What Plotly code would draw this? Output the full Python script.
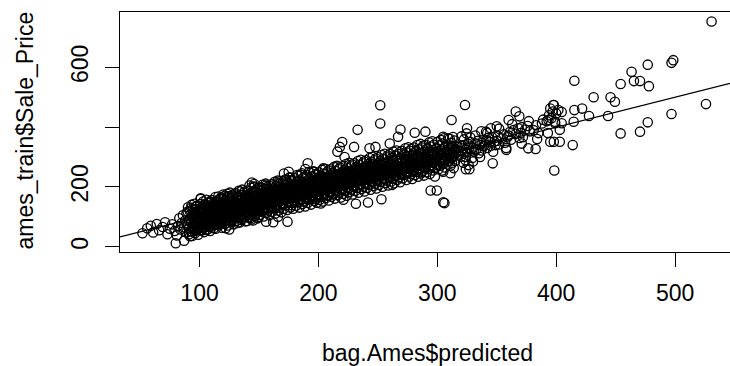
import plotly.graph_objects as go

# ---- data (thousands of $) ----
pred_a = [52, 56, 59, 61, 64, 66, 69, 71, 73, 75, 77, 79,
          80, 81, 82, 83, 84, 85, 86, 87, 87, 88, 89, 89]
sale_a = [45, 62, 70, 48, 76, 55, 66, 82, 42, 60, 75, 53,
          12, 38, 70, 95, 58, 80, 105, 65, 20, 88, 48, 112]

pred_90 = [90, 90, 91, 92, 92, 93, 93, 94, 94, 95, 95, 96, 96, 96, 97, 97, 98, 98, 98, 99, 99, 99, 91, 94, 97]
sale_90 = [72, 118, 60, 95, 35, 84, 130, 66, 102, 78, 115, 90, 55, 124, 70, 98, 82, 108, 62, 92, 120, 75, 88, 50, 135]

pred_100 = [100, 100, 101, 101, 101, 102, 102, 103, 103, 103, 104, 104, 105, 105, 105, 106, 106, 106,
            107, 107, 107, 108, 108, 108, 109, 109, 109, 100, 102, 104, 106, 108, 103, 105, 107]
sale_100 = [85, 112, 96, 160, 70, 104, 78, 120, 92, 64, 108, 86, 98, 130, 74, 115, 90, 58,
            102, 125, 82, 95, 138, 70, 110, 88, 118, 128, 55, 142, 100, 66, 84, 106, 134]

pred_110 = [110, 110, 110, 111, 111, 111, 112, 112, 112, 113, 113, 113, 114, 114, 114, 115, 115, 115,
            116, 116, 116, 117, 117, 117, 118, 118, 118, 119, 119, 119, 110, 112, 114, 116, 118, 111, 113, 115, 117, 119]
sale_110 = [95, 118, 80, 108, 130, 88, 100, 72, 124, 112, 92, 140, 104, 84, 120, 98, 130, 76,
            110, 90, 145, 102, 122, 86, 114, 96, 135, 108, 126, 82, 150, 62, 100, 115, 92, 105, 118, 155, 96, 120]

pred_120 = [120, 120, 120, 121, 121, 121, 122, 122, 122, 123, 123, 123, 124, 124, 124, 125, 125, 125,
            126, 126, 126, 127, 127, 127, 128, 128, 128, 129, 129, 129, 120, 122, 124, 126, 128,
            121, 123, 125, 127, 129, 122, 124, 126, 128, 125]
sale_120 = [110, 125, 95, 118, 138, 100, 122, 88, 112, 130, 105, 148, 116, 96, 135, 120, 108, 142,
            126, 100, 114, 132, 118, 92, 124, 140, 108, 128, 115, 150, 160, 78, 170, 85, 165,
            112, 122, 118, 130, 100, 140, 104, 128, 110, 158]

pred_130 = [130, 130, 130, 131, 131, 131, 132, 132, 132, 133, 133, 133, 134, 134, 134, 135, 135, 135,
            136, 136, 136, 137, 137, 137, 138, 138, 138, 139, 139, 139, 130, 132, 134, 136, 138,
            131, 133, 135, 137, 139, 130, 133, 136, 139, 132, 135, 138, 134]
sale_130 = [128, 140, 112, 135, 120, 150, 126, 110, 142, 132, 118, 155, 138, 124, 104, 130, 146, 116,
            140, 126, 160, 134, 118, 148, 138, 122, 152, 142, 128, 115, 95, 165, 100, 172, 108,
            136, 128, 140, 132, 145, 118, 122, 130, 136, 80, 90, 170, 185]

pred_140 = [140, 140, 140, 141, 141, 141, 142, 142, 142, 143, 143, 143, 144, 144, 144, 145, 145, 145,
            146, 146, 146, 147, 147, 147, 148, 148, 148, 149, 149, 149, 140, 142, 144, 146, 148,
            141, 143, 145, 147, 149, 140, 143, 146, 149, 142, 145, 148, 144]
sale_140 = [138, 150, 124, 145, 132, 160, 140, 126, 155, 148, 134, 166, 142, 128, 158, 146, 136, 170,
            150, 132, 162, 144, 156, 128, 152, 140, 168, 148, 160, 134, 110, 205, 112, 200, 118,
            142, 152, 140, 148, 155, 86, 96, 210, 120, 175, 88, 180, 215]

pred_150 = [150, 150, 150, 151, 151, 151, 152, 152, 152, 153, 153, 153, 154, 154, 154, 155, 155, 155,
            156, 156, 156, 157, 157, 157, 158, 158, 158, 159, 159, 159, 150, 152, 154, 156, 158,
            151, 153, 155, 157, 159, 150, 154, 158, 156, 152]
sale_150 = [150, 162, 138, 156, 144, 170, 152, 140, 166, 160, 146, 176, 154, 140, 168, 158, 148, 180,
            162, 146, 174, 156, 168, 140, 164, 150, 178, 158, 172, 146, 120, 198, 124, 205, 128,
            155, 162, 150, 158, 166, 100, 132, 192, 84, 190]

pred_160 = [160, 160, 160, 161, 161, 161, 162, 162, 162, 163, 163, 163, 164, 164, 164, 165, 165, 165,
            166, 166, 166, 167, 167, 167, 168, 168, 168, 169, 169, 169, 160, 162, 164, 166, 168,
            161, 163, 165, 167, 169, 162, 166]
sale_160 = [160, 172, 148, 166, 154, 182, 162, 150, 176, 170, 156, 186, 164, 150, 178, 168, 158, 190,
            172, 156, 184, 166, 178, 150, 174, 160, 188, 168, 182, 156, 130, 210, 134, 215, 138,
            165, 172, 160, 168, 176, 82, 100]

pred_170 = [170, 170, 170, 171, 171, 171, 172, 172, 172, 173, 173, 173, 174, 174, 174, 175, 175, 175,
            176, 176, 176, 177, 177, 177, 178, 178, 178, 179, 179, 179, 170, 172, 174, 176, 178,
            171, 173, 175, 177, 179]
sale_170 = [170, 182, 158, 176, 164, 192, 172, 160, 186, 180, 166, 196, 174, 160, 188, 178, 168, 200,
            182, 166, 194, 176, 188, 160, 184, 170, 198, 178, 192, 166, 140, 225, 84, 232, 146,
            175, 182, 170, 178, 186]

pred_180 = [180, 180, 180, 181, 181, 181, 182, 182, 182, 183, 183, 183, 184, 184, 184, 185, 185, 185,
            186, 186, 186, 187, 187, 187, 188, 188, 188, 189, 189, 189, 180, 182, 184, 186, 188,
            181, 185, 189]
sale_180 = [180, 192, 168, 186, 174, 204, 182, 170, 196, 190, 176, 206, 184, 170, 198, 188, 178, 212,
            192, 176, 204, 186, 198, 170, 194, 180, 210, 188, 202, 176, 150, 240, 155, 246, 150,
            185, 195, 260]

pred_190 = [190, 190, 190, 191, 191, 191, 192, 192, 192, 193, 193, 193, 194, 194, 194, 195, 195, 195,
            196, 196, 196, 197, 197, 197, 198, 198, 198, 199, 199, 199, 190, 192, 194, 196, 198, 191]
sale_190 = [190, 202, 178, 196, 184, 214, 192, 180, 206, 200, 186, 216, 194, 180, 208, 198, 188, 222,
            202, 186, 214, 196, 208, 180, 204, 190, 220, 198, 212, 186, 160, 250, 162, 252, 168, 279]

pred_200 = [200, 200, 200, 201, 201, 201, 202, 202, 202, 203, 203, 203, 204, 204, 204, 205, 205, 205,
            206, 206, 206, 207, 207, 207, 208, 208, 208, 209, 209, 209, 200, 204, 208, 202]
sale_200 = [200, 212, 186, 206, 194, 224, 202, 188, 216, 210, 196, 228, 204, 190, 220, 208, 196, 232,
            212, 196, 224, 206, 218, 188, 214, 200, 230, 208, 222, 194, 165, 262, 172, 145]

pred_210 = [210, 210, 210, 211, 211, 211, 212, 212, 212, 213, 213, 213, 214, 214, 214, 215, 215, 215,
            216, 216, 216, 217, 217, 217, 218, 218, 218, 219, 219, 219, 212, 216]
sale_210 = [210, 222, 196, 216, 204, 234, 212, 198, 226, 220, 206, 238, 214, 200, 230, 218, 206, 242,
            222, 206, 234, 216, 228, 198, 224, 210, 240, 218, 232, 204, 175, 268]

pred_220 = [220, 220, 220, 221, 221, 221, 222, 222, 222, 223, 223, 223, 224, 224, 224, 225, 225, 225,
            226, 226, 226, 227, 227, 227, 228, 228, 228, 229, 229, 229]
sale_220 = [220, 232, 206, 226, 214, 244, 222, 208, 236, 230, 216, 248, 224, 210, 240, 228, 216, 252,
            232, 216, 244, 226, 238, 208, 234, 220, 250, 228, 242, 214]

pred_230 = [230, 230, 230, 231, 231, 231, 232, 232, 232, 233, 233, 233, 234, 234, 234, 235, 235, 235,
            236, 236, 236, 237, 237, 237, 238, 238, 238, 239]
sale_230 = [230, 242, 216, 236, 224, 254, 232, 218, 246, 240, 226, 258, 234, 220, 250, 238, 226, 262,
            242, 226, 254, 236, 248, 218, 244, 230, 260, 238]

pred_240 = [240, 240, 240, 241, 241, 241, 242, 242, 242, 243, 243, 243, 244, 244, 244, 245, 245, 245,
            246, 246, 246, 247, 247, 248, 248, 249]
sale_240 = [240, 252, 224, 246, 232, 266, 242, 226, 258, 250, 234, 270, 244, 228, 262, 248, 234, 276,
            252, 236, 268, 246, 260, 254, 238, 250]

pred_250 = [250, 250, 250, 251, 251, 252, 252, 252, 253, 253, 254, 254, 254, 255, 255, 256, 256, 257,
            257, 258, 258, 259, 259, 251]
sale_250 = [250, 264, 232, 256, 242, 252, 236, 270, 260, 244, 254, 238, 272, 258, 246, 262, 240, 256,
            276, 250, 266, 256, 242, 280]

pred_260 = [260, 260, 260, 261, 261, 262, 262, 263, 263, 264, 264, 265, 265, 266, 266, 267, 267, 268,
            268, 269, 269, 263]
sale_260 = [260, 274, 244, 266, 250, 262, 246, 270, 256, 264, 248, 268, 254, 272, 258, 262, 280, 266,
            250, 270, 256, 290]

pred_270 = [270, 270, 271, 271, 272, 272, 273, 273, 274, 274, 275, 275, 276, 276, 277, 277, 278, 278, 279, 279]
sale_270 = [270, 256, 284, 262, 276, 260, 280, 266, 272, 290, 278, 262, 284, 268, 276, 292, 282, 264, 278, 296]

pred_280 = [280, 280, 281, 281, 282, 282, 283, 284, 284, 285, 285, 286, 287, 287, 288, 288, 289, 289]
sale_280 = [280, 264, 290, 272, 286, 268, 294, 282, 300, 276, 290, 284, 296, 270, 288, 302, 280, 294]

pred_290 = [290, 290, 291, 292, 292, 293, 294, 294, 295, 296, 296, 297, 298, 298, 299, 299]
sale_290 = [290, 276, 302, 284, 298, 310, 288, 272, 300, 292, 308, 282, 296, 314, 290, 304]

pred_300 = [300, 300, 301, 302, 303, 303, 304, 305, 306, 306, 307, 308, 309, 309,
            310, 311, 312, 312, 313, 314, 315, 316, 317, 318, 318, 319,
            320, 321, 322, 323, 324, 325, 326, 327, 328, 329, 324]
sale_300 = [300, 316, 288, 306, 294, 322, 310, 298, 314, 286, 304, 318, 296, 326,
            310, 322, 298, 330, 314, 304, 326, 318, 334, 306, 322, 340,
            320, 336, 312, 340, 326, 316, 344, 330, 350, 322, 300]

pred_330 = [330, 331, 332, 333, 334, 336, 337, 338, 339,
            340, 341, 342, 343, 344, 345, 346, 348, 349,
            350, 351, 352, 354, 356, 357, 359,
            360, 361, 362, 364, 366, 368, 369,
            370, 371, 372, 374, 376, 378,
            381, 383, 385, 388,
            392, 394, 395, 396, 397, 398, 399, 400]
sale_330 = [332, 318, 346, 326, 354, 340, 322, 348, 336,
            342, 356, 330, 364, 350, 338, 366, 352, 340,
            354, 370, 342, 362, 376, 348, 366,
            372, 384, 358, 390, 378, 396, 364,
            380, 400, 366, 392, 404, 386,
            390, 406, 380, 412,
            420, 440, 462, 430, 452, 474, 418, 446]

# middle layer of the dense band
pred_m = [95.5, 96.4, 97.3, 98.2, 99.1, 100.0, 100.9, 101.8, 102.7, 103.6,
          105.5, 106.4, 107.3, 108.2, 109.1, 110.0, 110.9, 111.8, 112.7, 113.6,
          115.5, 116.4, 117.3, 118.2, 119.1, 120.0, 120.9, 121.8, 122.7, 123.6,
          125.5, 126.4, 127.3, 128.2, 129.1, 130.0, 130.9, 131.8, 132.7, 133.6,
          135.5, 136.4, 137.3, 138.2, 139.1, 140.0, 140.9, 141.8, 142.7, 143.6,
          145.5, 146.4, 147.3, 148.2, 149.1, 150.0, 150.9, 151.8, 152.7, 153.6,
          155.5, 156.4, 157.3, 158.2, 159.1, 160.0, 160.9, 161.8, 162.7, 163.6,
          165.5, 166.4, 167.3, 168.2, 169.1, 170.0, 170.9, 171.8, 172.7, 173.6,
          175.5, 176.4, 177.3, 178.2, 179.1, 180.0, 180.9, 181.8, 182.7, 183.6,
          185.5, 186.4, 187.3, 188.2, 189.1, 190.0, 190.9, 191.8, 192.7, 193.6,
          195.5, 196.4, 197.3, 198.2, 199.1, 200.0, 200.9, 201.8, 202.7, 203.6,
          205.5, 206.4, 207.3, 208.2, 209.1, 210.0, 210.9, 211.8, 212.7, 213.6,
          215.5, 216.4, 217.3, 218.2, 219.1, 220.0, 220.9, 221.8, 222.7, 223.6,
          225.5, 226.4, 227.3, 228.2, 229.1, 230.0, 230.9, 231.8, 232.7, 233.6,
          235.5, 236.4, 237.3, 238.2, 239.1, 240.0, 240.9, 241.8, 242.7, 243.6,
          245.5, 246.4, 247.3, 248.2, 249.1, 250.0, 250.9, 251.8, 252.7, 253.6,
          255.5, 256.4, 257.3, 258.2, 259.1, 260.0, 260.9, 261.8, 262.7, 263.6,
          265.5, 266.4, 267.3, 268.2, 269.1, 270.0, 270.9, 271.8, 272.7, 273.6,
          275.5, 276.4, 277.3, 278.2, 279.1, 280.0, 280.9, 281.8, 282.7, 283.6,
          285.5, 286.4, 287.3, 288.2, 289.1, 290.0, 290.9, 291.8, 292.7, 293.6,
          295.5, 296.4, 297.3, 298.2, 299.1, 300.0, 300.9, 301.8, 302.7, 303.6,
          305.5, 306.4, 307.3, 308.2, 309.1, 310.0, 310.9, 311.8, 312.7, 313.6]
sale_m = [114, 76, 104, 86, 122, 69, 109, 81, 118, 90,
          126, 88, 116, 98, 134, 81, 121, 93, 130, 102,
          137, 101, 128, 109, 147, 92, 134, 104, 141, 115,
          149, 109, 137, 121, 155, 104, 142, 116, 153, 123,
          157, 121, 149, 129, 167, 112, 154, 124, 161, 135,
          169, 129, 157, 141, 175, 124, 162, 136, 173, 143,
          177, 141, 169, 149, 187, 132, 174, 144, 181, 155,
          189, 149, 177, 161, 195, 144, 182, 156, 193, 163,
          197, 161, 189, 169, 207, 152, 194, 164, 201, 175,
          209, 169, 197, 181, 215, 164, 202, 176, 213, 183,
          217, 181, 209, 189, 227, 172, 214, 184, 221, 195,
          229, 189, 217, 201, 235, 184, 222, 196, 233, 203,
          237, 201, 229, 209, 247, 192, 234, 204, 241, 215,
          249, 209, 237, 221, 255, 204, 242, 216, 253, 223,
          257, 221, 249, 229, 267, 212, 254, 224, 261, 235,
          269, 229, 257, 241, 275, 224, 262, 236, 273, 243,
          277, 241, 269, 249, 287, 232, 274, 244, 281, 255,
          289, 251, 279, 261, 297, 244, 284, 256, 293, 265,
          300, 260, 288, 272, 306, 255, 295, 265, 304, 274,
          310, 270, 298, 282, 316, 265, 303, 277, 314, 284,
          318, 282, 310, 290, 328, 273, 315, 285, 322, 296,
          330, 290, 318, 302, 336, 285, 325, 295, 334, 304]

# wider scatter around the dense band (edges of the black cloud)
pred_w1 = [90.3, 91.1, 91.8, 92.4, 93.2, 93.7, 94.5, 95.1, 95.6, 96.4, 97.0, 97.7, 98.3, 98.8, 99.4, 99.9,
           100.6, 101.2, 101.9, 102.3, 103.1, 103.8, 104.4, 105.2, 105.7, 106.3, 107.1, 107.6, 108.4, 108.9, 109.3, 109.8,
           110.2, 110.9, 111.7, 112.5, 113.3, 113.6, 114.6, 115.0, 115.8, 116.5, 116.9, 117.8, 118.2, 118.9, 119.5, 119.7,
           120.4, 121.0, 121.9, 122.2, 123.3, 123.9, 124.4, 125.3, 125.5, 126.6, 127.2, 127.5, 128.5, 128.7, 129.6, 129.9,
           130.1, 131.3, 131.7, 132.6, 133.0, 133.8, 134.7, 135.0, 135.9, 136.2, 137.1, 137.9, 138.1, 138.8, 139.2, 139.8,
           140.3, 141.2, 141.6, 142.5, 143.3, 143.7, 144.6, 145.1, 145.8, 146.3, 147.0, 147.6, 148.4, 148.9, 149.3, 149.8,
           150.2, 151.0, 151.9, 152.3, 153.1, 153.9, 154.4, 155.2, 155.6, 156.5, 157.1, 157.7, 158.2, 158.8, 159.5, 159.9,
           160.4, 161.1, 161.8, 162.4, 163.2, 163.8, 164.5, 165.0, 165.7, 166.4, 167.0, 167.8, 168.3, 168.9, 169.4, 169.8,
           170.3, 170.9, 171.7, 172.5, 173.2, 173.7, 174.6, 175.1, 175.7, 176.3, 177.1, 177.6, 178.4, 178.8, 179.3, 179.9,
           180.2, 181.1, 181.8, 182.3, 183.1, 183.9, 184.4, 185.2, 185.6, 186.5, 187.0, 187.7, 188.2, 188.9, 189.5, 189.8,
           190.4, 191.0, 191.9, 192.4, 193.3, 193.8, 194.5, 195.0, 195.8, 196.4, 197.2, 197.6, 198.3, 198.7, 199.4, 199.9]
sale_w1 = [132, 42, 120, 52, 140, 36, 126, 60, 144, 46, 134, 54, 138, 40, 116, 64,
           143, 55, 131, 65, 151, 49, 139, 71, 157, 57, 147, 67, 149, 53, 129, 77,
           156, 68, 146, 76, 166, 60, 150, 86, 168, 72, 160, 78, 164, 64, 142, 90,
           169, 77, 157, 87, 177, 71, 163, 95, 181, 83, 171, 89, 175, 75, 153, 99,
           179, 87, 167, 97, 187, 81, 173, 105, 191, 93, 181, 99, 185, 85, 163, 109,
           187, 99, 177, 107, 197, 91, 183, 115, 201, 103, 189, 111, 195, 95, 173, 119,
           199, 107, 187, 117, 207, 101, 193, 125, 211, 113, 199, 121, 205, 105, 183, 129,
           209, 117, 195, 129, 217, 111, 203, 137, 221, 121, 211, 131, 213, 115, 193, 141,
           219, 127, 207, 139, 225, 123, 211, 147, 231, 131, 221, 139, 223, 127, 201, 151,
           229, 137, 217, 149, 237, 131, 221, 157, 241, 143, 229, 151, 235, 135, 213, 159,
           239, 147, 225, 159, 247, 141, 233, 165, 251, 153, 241, 159, 243, 147, 223, 171]

pred_w2 = [200.3, 201.2, 201.7, 202.5, 203.2, 203.7, 204.6, 205.1, 205.7, 206.3, 207.1, 207.8, 208.4, 208.8, 209.3, 209.8,
           210.2, 211.0, 211.8, 212.3, 213.1, 213.9, 214.4, 215.2, 215.6, 216.5, 217.0, 217.7, 218.2, 218.9, 219.5, 219.9,
           220.4, 221.1, 221.9, 222.4, 223.2, 223.8, 224.5, 225.0, 225.8, 226.4, 227.2, 227.6, 228.3, 228.7, 229.4, 229.8,
           230.3, 231.2, 231.7, 232.5, 233.2, 233.7, 234.6, 235.1, 235.7, 236.3, 237.1, 237.8, 238.4, 238.8, 239.3, 239.8,
           240.2, 241.0, 241.8, 242.3, 243.1, 243.9, 244.4, 245.2, 245.6, 246.5, 247.0, 247.7, 248.2, 248.9, 249.5, 249.9,
           250.4, 251.1, 251.9, 252.4, 253.2, 253.8, 254.5, 255.0, 255.8, 256.4, 257.2, 257.6, 258.3, 258.7, 259.4, 259.8,
           260.3, 261.2, 261.7, 262.5, 263.2, 263.7, 264.6, 265.1, 265.7, 266.3, 267.1, 267.8, 268.4, 268.8, 269.3, 269.8,
           270.2, 271.0, 271.8, 272.3, 273.1, 273.9, 274.4, 275.2, 275.6, 276.5, 277.0, 277.7, 278.2, 278.9, 279.5, 279.9,
           280.4, 281.1, 281.9, 282.4, 283.2, 283.8, 284.5, 285.0, 285.8, 286.4, 287.2, 287.6, 288.3, 288.7, 289.4, 289.8,
           290.3, 291.2, 291.7, 292.5, 293.2, 293.7, 294.6, 295.1, 295.7, 296.3, 297.1, 297.8,
           300.2, 301.0, 301.8, 302.3, 303.1, 303.9, 304.4, 305.2, 305.6, 306.5,
           310.4, 311.1, 311.9, 312.4, 313.2, 313.8, 314.5, 315.0,
           320.3, 321.9, 322.5, 323.7, 324.6, 326.3, 327.8, 329.4,
           332, 336, 341, 347, 352, 358, 363, 371, 377, 384, 389, 393]
sale_w2 = [249, 157, 237, 167, 257, 151, 243, 175, 261, 163, 249, 171, 255, 155, 233, 179,
           259, 167, 247, 177, 267, 161, 253, 185, 271, 173, 259, 181, 265, 165, 243, 189,
           269, 177, 257, 187, 277, 171, 263, 195, 281, 183, 269, 191, 275, 175, 253, 199,
           279, 187, 267, 197, 287, 181, 273, 205, 291, 193, 279, 201, 285, 185, 263, 209,
           289, 197, 277, 207, 297, 191, 283, 215, 301, 203, 289, 211, 295, 195, 273, 219,
           299, 207, 287, 217, 307, 201, 293, 225, 311, 213, 299, 221, 305, 205, 283, 229,
           310, 218, 298, 228, 318, 212, 304, 236, 322, 224, 310, 232, 316, 216, 294, 240,
           321, 229, 309, 241, 329, 223, 315, 247, 333, 235, 321, 243, 327, 227, 305, 251,
           332, 240, 320, 250, 340, 234, 326, 258, 344, 246, 332, 254, 338, 238, 316, 262,
           341, 249, 329, 261, 349, 243, 335, 267, 353, 255, 341, 263,
           351, 259, 339, 271, 357, 255, 345, 277, 363, 265,
           361, 271, 347, 281, 367, 263, 355, 287,
           369, 281, 359, 289, 379, 273, 365, 297,
           372, 300, 385, 318, 395, 330, 410, 345, 420, 360, 425, 380]

pred_out = [530.7, 497, 498.5, 477, 463.4, 465.4, 470.5, 478, 454.2, 415.3,
            431.5, 445.7, 449.4, 443.6, 427.6, 414.7, 526, 497, 477, 470.5,
            454.2, 413.9, 415.3, 421.8, 404.6, 404.6, 403, 403, 398.4, 397.6,
            401.8, 393.5, 399.1, 395, 398, 323.3, 312, 376.5, 382.7, 346.6,
            324, 327, 294.4, 299.6, 305, 306, 253, 262, 252, 252,
            233, 269, 281, 290, 305, 309, 325, 345, 337, 342,
            350, 360, 366, 369, 358, 335, 320, 330, 305, 311,
            287, 298, 221, 231.5, 241.7, 230, 243, 248, 260, 267,
            216, 218, 220, 222, 171, 175, 120, 122, 125, 101]
sale_out = [753, 615, 624, 609, 585, 554, 554, 537, 544, 555,
            500, 500, 485, 437, 437, 418, 477, 444, 416, 385,
            379, 340, 457, 462, 451, 413, 391, 351, 255, 474,
            457, 424, 413, 351, 351, 474, 424, 329, 327, 279,
            259, 259, 188, 188, 149, 146, 159, 207, 473, 412,
            391, 392, 381, 385, 368, 363, 396, 396, 386, 380,
            403, 424, 452, 436, 324, 313, 301, 285, 251, 246,
            251, 235, 157, 144, 148, 334, 329, 334, 345, 368,
            318, 334, 350, 300, 245, 251, 175, 62, 58, 162]

# reference line abline(a, b)
line_intercept = 0
line_slope = 1

x_ticks = [100, 200, 300, 400, 500]
y_ticks = [0, 200, 400, 600]
y_ticktext = ["0", "200", "", "600"]   # R drops the "400" label (overlap)

x_title = "bag.Ames$predicted"
y_title = "ames_train$Sale_Price"

# ---- assemble ----
pairs = [(pred_a, sale_a), (pred_90, sale_90), (pred_100, sale_100), (pred_110, sale_110),
         (pred_120, sale_120), (pred_130, sale_130), (pred_140, sale_140), (pred_150, sale_150),
         (pred_160, sale_160), (pred_170, sale_170), (pred_180, sale_180), (pred_190, sale_190),
         (pred_200, sale_200), (pred_210, sale_210), (pred_220, sale_220), (pred_230, sale_230),
         (pred_240, sale_240), (pred_250, sale_250), (pred_260, sale_260), (pred_270, sale_270),
         (pred_280, sale_280), (pred_290, sale_290), (pred_300, sale_300), (pred_330, sale_330),
         (pred_m, sale_m), (pred_w1, sale_w1), (pred_w2, sale_w2), (pred_out, sale_out)]
pred, sale = [], []
for px_, sy_ in pairs:
    assert len(px_) == len(sy_), (len(px_), len(sy_), px_[0])
    pred += px_
    sale += sy_

x_range = [33.1, 546.2]
y_range = [-17.5, 785]

FONT = "Liberation Sans, Arial, Helvetica, sans-serif"
FS = 23

fig = go.Figure()
fig.add_trace(go.Scatter(
    x=pred, y=sale, mode="markers",
    marker=dict(symbol="circle-open", size=9.3, color="black", line=dict(width=1.3, color="black")),
    hoverinfo="skip", showlegend=False))

lx = [x_range[0], x_range[1]]
ly = [line_intercept + line_slope * v for v in lx]
fig.add_trace(go.Scatter(x=lx, y=ly, mode="lines", line=dict(color="black", width=1.2),
                         hoverinfo="skip", showlegend=False))

axis_common = dict(
    showgrid=False, zeroline=False, showline=True, linecolor="black", linewidth=1.2,
    ticks="outside", ticklen=14, tickwidth=1.2, tickcolor="black",
    tickfont=dict(family=FONT, size=FS, color="black"),
)
fig.update_layout(
    width=730, height=366,
    margin=dict(l=120, r=0, t=12, b=114, pad=0),
    paper_bgcolor="white", plot_bgcolor="white",
    xaxis=dict(range=x_range, tickmode="array", tickvals=x_ticks, mirror=True,
               ticklabelstandoff=6, **axis_common),
    yaxis=dict(range=y_range, tickmode="array", tickvals=y_ticks, ticktext=y_ticktext,
               tickangle=-90, ticklabelstandoff=8, **axis_common),
    annotations=[
        dict(text=x_title, xref="paper", yref="paper", x=0.504, y=-0.421,
             xanchor="center", yanchor="middle", showarrow=False,
             font=dict(family=FONT, size=FS, color="black")),
        dict(text=y_title, xref="paper", yref="paper", x=-0.155, y=0.508,
             xanchor="center", yanchor="middle", textangle=-90, showarrow=False,
             font=dict(family=FONT, size=FS, color="black")),
    ],
)

fig.write_html("out.html")
